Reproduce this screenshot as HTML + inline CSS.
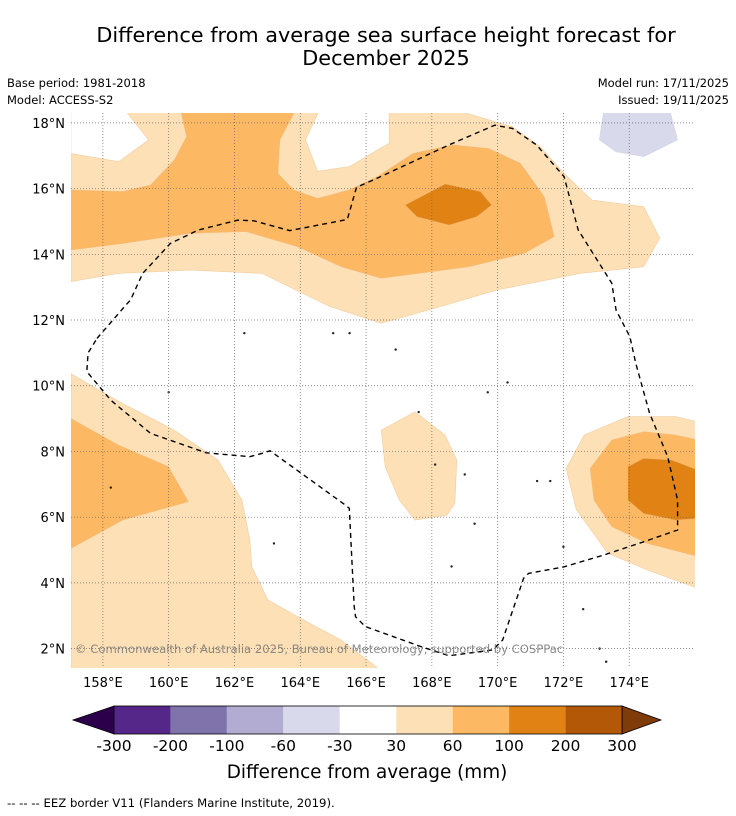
<!DOCTYPE html>
<html><head><meta charset="utf-8">
<style>
html,body{margin:0;padding:0;background:#fff;}
svg{display:block;font-family:"DejaVu Sans","Liberation Sans",sans-serif;}
</style></head>
<body>
<svg id="chart" width="736" height="816" viewBox="0 0 736 816">
<text x="386" y="42" text-anchor="middle" font-size="20.8">Difference from average sea surface height forecast for</text>
<text x="386" y="65" text-anchor="middle" font-size="20.8">December 2025</text>
<text x="7" y="87" font-size="11.5">Base period: 1981-2018</text>
<text x="7" y="104" font-size="11.5">Model: ACCESS-S2</text>
<text x="729" y="87" font-size="11.5" text-anchor="end">Model run: 17/11/2025</text>
<text x="729" y="104" font-size="11.5" text-anchor="end">Issued: 19/11/2025</text>
<defs><clipPath id="plotclip"><rect x="71" y="113" width="624" height="555"/></clipPath></defs>
<g id="map" clip-path="url(#plotclip)"></g>
<g id="grid"></g>
<g id="eez"></g>
<g id="axes"></g>
<text x="75" y="653" font-size="11.6" fill="#777" fill-opacity="0.85">© Commonwealth of Australia 2025, Bureau of Meteorology, supported by COSPPac</text>
<g id="colorbar"></g>
<text x="367" y="778" text-anchor="middle" font-size="18.4">Difference from average (mm)</text>
<text x="7" y="807" font-size="11.7">--  --  -- EEZ border V11 (Flanders Marine Institute, 2019).</text>
</svg>
<script>
// ---- data ----
const lonTicks = [158,160,162,164,166,168,170,172,174];
const latTicks = [2,4,6,8,10,12,14,16,18];
const cbLevels = [-300,-200,-100,-60,-30,30,60,100,200,300];
const cbColors = ["#542788","#8073ac","#b2abd2","#d8daeb","#ffffff","#fee0b6","#fdb863","#e08214","#b35806"];
const cbUnder = "#2d004b";
const cbOver = "#7f3b08";
// contour polygons: [lon,lat] pairs, level bin index into cbColors
const polyLevels = [5,6,7,3,5,5,6,5,6,7];
const polyLight1 = [[157.03,18.4],[157.03,17.07],[158.48,16.82],[159.39,17.48],[158.66,18.4],[164.59,18.4],[164.16,17.48],[164.53,16.53],[165.49,16.67],[166.70,17.38],[166.70,18.4],[168.70,18.4],[170.45,17.88],[171.30,17.27],[172.02,16.46],[172.87,15.65],[174.44,15.45],[174.93,14.49],[174.44,13.62],[172.51,13.42],[169.97,12.91],[168.28,12.41],[166.46,11.90],[164.89,12.41],[162.83,13.42],[160.66,13.52],[158.48,13.42],[157.03,13.17]];
const polyMid1 = [[157.03,15.96],[158.60,15.91],[159.45,16.11],[160.17,16.87],[160.54,17.58],[160.36,18.4],[163.86,18.4],[163.38,17.48],[163.32,16.46],[163.80,15.96],[164.53,15.70],[165.49,15.96],[166.34,16.36],[167.43,17.07],[168.64,17.33],[169.73,17.22],[170.69,16.77],[171.42,15.75],[171.72,14.54],[170.81,14.03],[169.12,13.62],[166.46,13.27],[165.25,13.62],[163.92,14.23],[162.35,14.69],[160.66,14.64],[158.60,14.33],[157.03,14.13]];
const polyDark1 = [[167.19,15.50],[168.40,16.14],[169.48,15.91],[169.82,15.50],[169.36,15.14],[168.52,14.89],[167.55,15.14]];
const polyPurple1 = [[173.23,18.4],[175.23,18.4],[175.47,17.48],[174.44,16.97],[173.60,17.12],[173.09,17.48]];
const polyLight2 = [[157.03,10.37],[158.60,9.46],[160.17,8.65],[161.50,7.74],[162.23,6.52],[162.47,5.30],[162.53,4.49],[163.02,3.48],[164.29,2.77],[165.25,2.26],[166.40,1.38],[157.03,1.38]];
const polyLight3 = [[166.46,8.65],[167.49,9.21],[168.40,8.50],[168.76,7.74],[168.70,6.42],[168.46,6.06],[167.49,5.91],[167.01,6.52],[166.58,7.54]];
const polyMid2 = [[157.03,9.00],[158.48,8.19],[159.99,7.54],[160.60,6.47],[158.60,5.91],[157.03,5.05]];
const polyLight4 = [[176.1,8.90],[175.41,9.06],[173.96,9.06],[172.63,8.50],[172.08,7.48],[172.39,6.22],[173.35,4.90],[174.56,4.39],[176.1,3.83]];
const polyMid3 = [[176.1,8.35],[175.41,8.50],[174.44,8.60],[173.47,8.35],[172.81,7.48],[172.93,6.52],[173.47,5.71],[174.56,5.20],[176.1,4.80]];
const polyDark2 = [[176.1,7.43],[175.29,7.74],[174.44,7.79],[173.96,7.54],[173.96,6.52],[174.44,6.11],[175.41,5.91],[176.1,5.96]];
const polygons = [polyLight1,polyMid1,polyDark1,polyPurple1,polyLight2,polyLight3,polyMid2,polyLight4,polyMid3,polyDark2];
const eezLine = [[157.82,11.44],[158.66,12.41],[158.84,12.61],[159.21,13.42],[160.05,14.33],[160.90,14.74],[162.11,15.04],[162.59,15.02],[163.68,14.72],[165.43,15.06],[165.71,16.04],[166.22,16.26],[168.52,17.33],[169.91,17.93],[170.45,17.83],[171.18,17.33],[172.02,16.36],[172.45,14.74],[173.47,13.12],[173.60,12.30],[174.02,11.49],[174.20,10.68],[174.62,9.16],[175.17,7.84],[175.47,6.52],[175.47,5.61],[174.44,5.25],[173.23,4.85],[172.02,4.49],[170.94,4.29],[170.79,4.14],[170.15,2.26],[169.85,1.96],[168.52,1.78],[167.67,2.06],[165.98,2.67],[165.68,2.97],[165.64,3.28],[165.49,6.27],[165.37,6.37],[164.04,7.33],[163.08,8.02],[162.83,7.94],[162.47,7.84],[161.14,7.96],[159.45,8.55],[158.60,9.26],[158.24,9.56],[157.51,10.43],[157.55,11.0],[157.82,11.44]];
const islandLons = [158.24,160.0,163.2,165.5,166.9,168.1,169.0,169.7,170.3,171.2,171.6,172.0,172.6,173.1,173.3,169.3,168.6,167.6,165.0,162.3];
const islandLats = [6.9,9.8,5.2,11.6,11.1,7.6,7.3,9.8,10.1,7.1,7.1,5.1,3.2,2.0,1.6,5.8,4.5,9.2,11.6,11.6];

// ---- axis functions ----
const X0=71, X1=695, Y0=113, Y1=668, LON0=157.03, LON1=176.0, LAT0=1.41, LAT1=18.3;
const xOf = lon => X0 + (lon-LON0)/(LON1-LON0)*(X1-X0);
const yOf = lat => Y1 - (lat-LAT0)/(LAT1-LAT0)*(Y1-Y0);
const NS="http://www.w3.org/2000/svg";
function mk(tag, attrs, parent){const e=document.createElementNS(NS,tag);for(const k in attrs)e.setAttribute(k,attrs[k]);parent.appendChild(e);return e;}

const map=document.getElementById('map');
polygons.forEach((p,i)=>{
  const col=cbColors[polyLevels[i]];
  const el=mk('polygon',{points:p.map(q=>xOf(q[0]).toFixed(1)+','+yOf(q[1]).toFixed(1)).join(' '),fill:col,stroke:(col==="#d8daeb"?"#c8c9dd":"#e9b880"),'stroke-width':0.6,'stroke-opacity':0.6},map);
  
  
});
islandLons.forEach((lon,i)=>{
  const el=mk('circle',{cx:xOf(lon),cy:yOf(islandLats[i]),r:1.2,fill:"#222"},map);
  
  
});

const grid=document.getElementById('grid');
lonTicks.forEach(l=>{
  const el=mk('line',{x1:xOf(l),x2:xOf(l),y1:Y0,y2:Y1,stroke:"#666",'stroke-width':0.7,'stroke-dasharray':'1,2'},grid);
  
  
});
latTicks.forEach(l=>{
  const el=mk('line',{x1:X0,x2:X1,y1:yOf(l),y2:yOf(l),stroke:"#666",'stroke-width':0.7,'stroke-dasharray':'1,2'},grid);
  
  
});

const eez=document.getElementById('eez');
const eezEl=mk('polyline',{points:eezLine.map(q=>xOf(q[0]).toFixed(1)+','+yOf(q[1]).toFixed(1)).join(' '),fill:"none",stroke:"#000",'stroke-width':1.4,'stroke-dasharray':'5,4'},eez);



const axes=document.getElementById('axes');
lonTicks.forEach(l=>{
  const t=mk('text',{x:xOf(l),y:687,'text-anchor':'middle','font-size':13},axes);
  t.textContent=l+'°E';
  
  
});
latTicks.forEach(l=>{
  const t=mk('text',{x:65,y:yOf(l)+5,'text-anchor':'end','font-size':13},axes);
  t.textContent=l+'°N';
  
  
});

// colorbar
const cb=document.getElementById('colorbar');
const CB0=114, CB1=622, CBT=706, CBB=734, n=cbColors.length, w=(CB1-CB0)/n;
const lt=mk('polygon',{points:`${CB0},${CBT} ${CB0},${CBB} 73,${(CBT+CBB)/2}`,fill:cbUnder,stroke:"#000",'stroke-width':0.8},cb);


const rt=mk('polygon',{points:`${CB1},${CBT} ${CB1},${CBB} 661,${(CBT+CBB)/2}`,fill:cbOver,stroke:"#000",'stroke-width':0.8},cb);


cbColors.forEach((c,i)=>{
  const r=mk('rect',{x:CB0+i*w,y:CBT,width:w,height:CBB-CBT,fill:c},cb);
  
  
});
const fr=mk('rect',{x:CB0,y:CBT,width:CB1-CB0,height:CBB-CBT,fill:"none",stroke:"#000",'stroke-width':0.8},cb);


cbLevels.forEach((v,i)=>{
  const t=mk('text',{x:CB0+i*w,y:751,'text-anchor':'middle','font-size':15.5},cb);
  t.textContent=v;
  
  
});
</script>
</body></html>
